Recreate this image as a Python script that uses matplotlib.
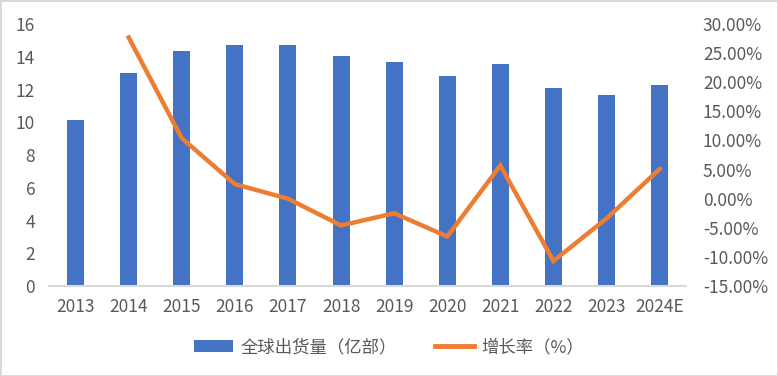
import numpy as np
import matplotlib.pyplot as plt
from matplotlib.patches import Patch
from matplotlib.lines import Line2D
from matplotlib.ticker import FuncFormatter, MultipleLocator

plt.rcParams['font.family'] = ['Liberation Sans Narrow', 'Noto Sans CJK SC', 'DejaVu Sans']

years = ['2013', '2014', '2015', '2016', '2017', '2018', '2019', '2020',
         '2021', '2022', '2023', '2024E']
shipments = [10.14, 13.0, 14.35, 14.7, 14.7, 14.05, 13.68, 12.82,
             13.56, 12.09, 11.66, 12.27]
growth = [np.nan, 27.7, 10.4, 2.5, 0.0, -4.6, -2.5, -6.5,
          5.7, -10.7, -3.4, 5.1]  # %

grey = '#595959'
fig = plt.figure(figsize=(7.78, 3.76), dpi=100, edgecolor='#D9D9D9', linewidth=2)
ax1 = fig.add_axes([0.063, 0.2394, 0.819, 0.6966])
x = np.arange(len(years))

ax1.bar(x, shipments, width=0.32, color='#4472C4', zorder=2)
ax1.set_xlim(-0.5, len(years) - 0.5)
ax1.set_ylim(0, 16)
ax1.yaxis.set_major_locator(MultipleLocator(2))
ax1.set_xticks(x)
ax1.set_xticklabels(years)
ax1.tick_params(axis='both', length=0, colors=grey, labelsize=12.5)
ax1.tick_params(axis='y', pad=10)
ax1.tick_params(axis='x', pad=9)
for s in ['top', 'right', 'left']:
    ax1.spines[s].set_visible(False)
ax1.spines['bottom'].set_color('#D9D9D9')
ax1.spines['bottom'].set_linewidth(1.5)

ax2 = ax1.twinx()
ax2.plot(x, growth, color='#ED7D31', lw=3.2, solid_joinstyle='miter', zorder=3)
ax2.set_ylim(-15, 30)
ax2.yaxis.set_major_locator(MultipleLocator(5))
ax2.yaxis.set_major_formatter(FuncFormatter(lambda v, p: f'{v:.2f}%'))
ax2.tick_params(axis='y', length=0, colors=grey, labelsize=12.5, pad=12)
for s in ax2.spines.values():
    s.set_visible(False)

handles = [Patch(facecolor='#4472C4'),
           Line2D([0], [0], color='#ED7D31', lw=3.5)]
fig.legend(handles, ['全球出货量（亿部）', '增长率（%）'], loc='center',
           bbox_to_anchor=(0.5, 0.077), ncol=2, frameon=False,
           prop={'family': ['Noto Sans CJK SC'], 'size': 12.5},
           labelcolor=grey, handlelength=2.25, handleheight=0.65,
           columnspacing=2.2, handletextpad=0.4)

fig.savefig('out.png', dpi=100, edgecolor=fig.get_edgecolor())
